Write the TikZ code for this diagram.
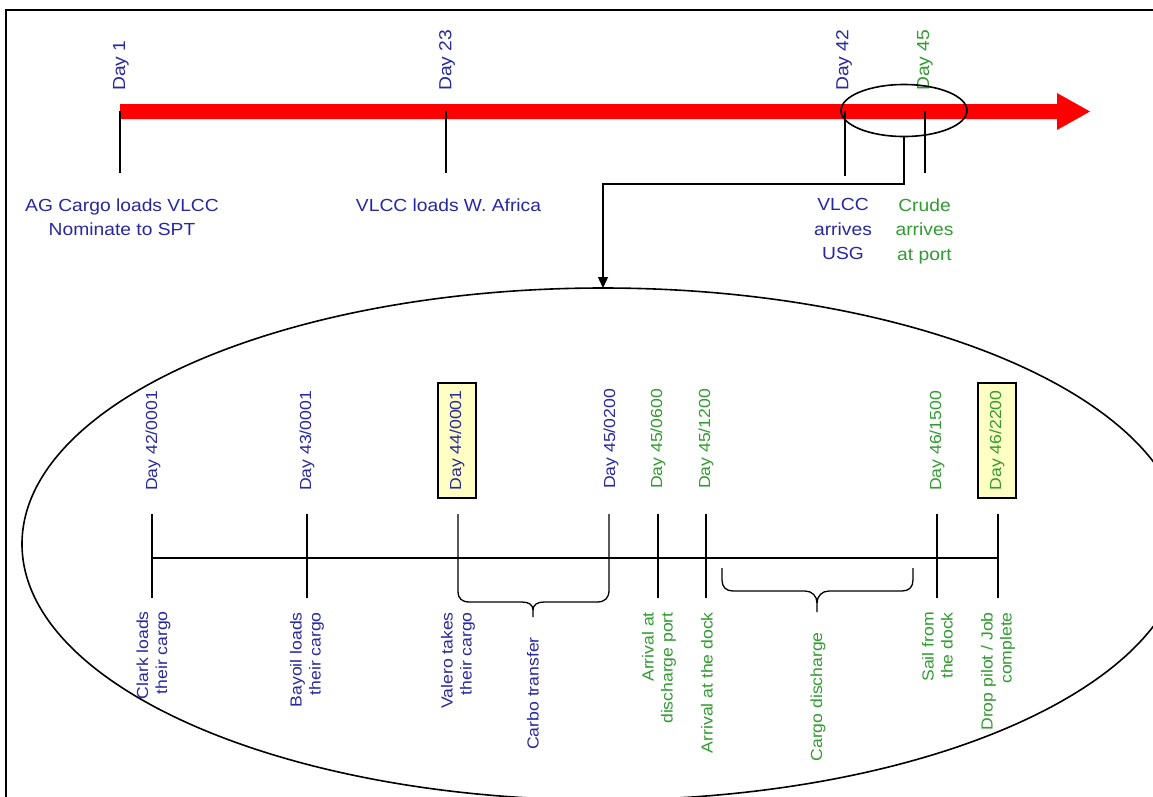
\documentclass[tikz,border=0pt]{standalone}
\usepackage{fontspec}
\setmainfont{Liberation Sans}[FakeStretch=1.1]
\usetikzlibrary{arrows.meta,shapes.geometric}
\definecolor{dblue}{RGB}{40,40,160}
\definecolor{dgreen}{RGB}{50,155,50}
\definecolor{boxyellow}{RGB}{255,255,195}
\begin{document}
\begin{tikzpicture}[x=1pt,y=-1pt,
  toplbl/.style={font=\fontsize{17.5}{24.5}\selectfont, align=center, inner sep=0pt, anchor=north},
  daytop/.style={font=\fontsize{17.5}{21}\selectfont, rotate=90, anchor=west, inner sep=0pt},
  daybot/.style={font=\fontsize{16}{19}\selectfont, rotate=90, anchor=center, inner sep=0pt},
  evbot/.style={font=\fontsize{16}{19}\selectfont, rotate=90, anchor=east, align=right, inner sep=0pt},
  tickline/.style={line width=1.3pt},
  dbox/.style={draw=black, line width=1.5pt, fill=boxyellow, minimum width=115, minimum height=38, inner sep=0pt},
  oval/.style={draw=black, ellipse, line width=1.6pt, inner sep=0pt, outer sep=0pt},
]
\useasboundingbox (0,0) rectangle (1153,796);
\clip (0,0) rectangle (1153,796);
\fill[white] (0,0) rectangle (1153,796);
% frame
\draw[line width=2.4pt] (6,800) -- (6,10) -- (1160,10);
% red timeline arrow
\fill[red] (120,104) -- (1057,104) -- (1057,93) -- (1090,111.5) -- (1057,130) -- (1057,119) -- (120,119) -- cycle;
% top ticks
\foreach \x/\b in {120/173,446/173,845/176,925/173}{
  \draw[tickline] (\x,111) -- (\x,\b);
}
% top day labels
\node[daytop, text=dblue] (d1) at (121,91) {Day 1};
\node[daytop, text=dblue] (d23) at (447,91) {Day 23};
\node[daytop, text=dblue] (d42) at (844,91) {Day 42};
\node[daytop, text=dgreen] (d45) at (925,91) {Day 45};
% top event labels
\node[toplbl, text=dblue] (lAG) at (122,198.5) {AG Cargo loads VLCC\\Nominate to SPT};
\node[toplbl, text=dblue] (lWA) at (448.5,198.5) {VLCC loads W. Africa};
\node[toplbl, text=dblue] (lUSG) at (843,198.5) {VLCC\\arrives\\USG};
\node[toplbl, text=dgreen] (lport) at (924.5,198.5) {Crude\\arrives\\at port};
% ellipses
\node[oval, minimum width=126, minimum height=52] (zoomE) at (904,110.5) {};
\node[oval, minimum width=1162, minimum height=512] (bigE) at (603,544) {};
% connector
\draw[line width=1.3pt, -{Triangle[length=11pt,width=10pt]}] (zoomE.south) -- ++(0,47.5) -| (bigE.north);
% bottom timeline
\draw[tickline] (152,558) -- (998,558);
\foreach \x in {152,307,658,706,937,998}{
  \draw[tickline] (\x,514) -- (\x,598);
}
% Carbo transfer brace (arms are the ticks)
\draw[tickline] (458,514) -- (458,591) .. controls (458,599) and (462,602) .. (470,602) -- (522,602) .. controls (529,602) and (533,605) .. (533,610) -- (533,617);
\draw[tickline] (609,514) -- (609,590) .. controls (609,598) and (605,602) .. (597,602) -- (544,602) .. controls (537,602) and (533,605) .. (533,610);
% Cargo discharge brace
\draw[tickline] (722,568) -- (722,580) .. controls (722,587) and (726,591) .. (733,591) -- (805,591) .. controls (812,591) and (817,596) .. (817,603) -- (817,612);
\draw[tickline] (913,568) -- (913,580) .. controls (913,587) and (909,591) .. (902,591) -- (829,591) .. controls (822,591) and (817,596) .. (817,603);
% bottom day labels
\node[daybot, text=dblue] (b42) at (153,441) {Day 42/0001};
\node[daybot, text=dblue] (b43) at (307,441) {Day 43/0001};
\node[daybot, dbox, text=dblue] (b44) at (457,440.5) {Day 44/0001};
\node[daybot, text=dblue] (b4502) at (611,439) {Day 45/0200};
\node[daybot, text=dgreen] (b4506) at (658,439) {Day 45/0600};
\node[daybot, text=dgreen] (b4512) at (706,439) {Day 45/1200};
\node[daybot, text=dgreen] (b4615) at (937,441) {Day 46/1500};
\node[daybot, dbox, text=dgreen] (b4622) at (997,440.5) {Day 46/2200};
% bottom event labels
\node[evbot, text=dblue] (eClark) at (153.5,611) {Clark loads\\their cargo};
\node[evbot, text=dblue] (eBay) at (307,612) {Bayoil loads\\their cargo};
\node[evbot, text=dblue] (eVal) at (458,612) {Valero takes\\their cargo};
\node[evbot, text=dblue] (eCarbo) at (533,637) {Carbo transfer};
\node[evbot, text=dgreen] (eArrP) at (659,612) {Arrival at\\discharge port};
\node[evbot, text=dgreen] (eArrD) at (707,612) {Arrival at the dock};
\node[evbot, text=dgreen] (eDis) at (818,632) {Cargo discharge};
\node[evbot, text=dgreen] (eSail) at (937.5,612) {Sail from\\the dock};
\node[evbot, text=dgreen] (eDrop) at (998,612) {Drop pilot / Job\\complete};
\end{tikzpicture}
\end{document}
